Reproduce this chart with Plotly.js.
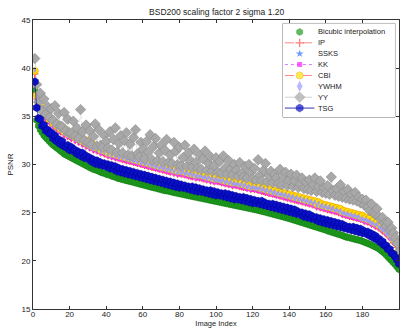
<!DOCTYPE html>
<html><head><meta charset="utf-8">
<script src="https://cdn.plot.ly/plotly-3.0.1.min.js"></script>
<style>html,body{margin:0;padding:0;background:#fff}#chart{width:405px;height:328px}</style>
</head><body><div id="chart"></div>
<script>
const seriesNames = ['Bicubic interpolation','IP','SSKS','KK','CBI','YWHM','YY','TSG'];
const xTicks = [0,20,40,60,80,100,120,140,160,180,200];
const yTicks = [15,20,25,30,35,40,45];

const bicubic = [
37.7,34.6,34.0,33.6,33.3,33.0,32.8,32.6,32.4,32.2,
32.0,31.9,31.7,31.6,31.4,31.3,31.1,31.0,30.9,30.8,
30.7,30.6,30.5,30.4,30.3,30.2,30.1,30.0,29.9,29.8,
29.7,29.6,29.5,29.45,29.4,29.3,29.2,29.15,29.1,29.0,
28.95,28.9,28.8,28.75,28.7,28.6,28.55,28.5,28.45,28.4,
28.35,28.3,28.25,28.2,28.15,28.1,28.05,28.0,27.95,27.9,
27.85,27.8,27.75,27.7,27.65,27.6,27.55,27.5,27.45,27.4,
27.35,27.3,27.28,27.24,27.2,27.15,27.1,27.06,27.02,26.98,
26.94,26.9,26.86,26.82,26.78,26.74,26.7,26.66,26.62,26.58,
26.54,26.5,26.46,26.42,26.38,26.34,26.3,26.26,26.22,26.18,
26.14,26.1,26.06,26.02,25.98,25.94,25.9,25.86,25.82,25.78,
25.74,25.7,25.66,25.62,25.58,25.54,25.5,25.46,25.42,25.38,
25.34,25.3,25.26,25.21,25.16,25.11,25.06,25.01,24.96,24.91,
24.86,24.81,24.76,24.71,24.66,24.61,24.56,24.51,24.45,24.4,
24.34,24.28,24.22,24.16,24.1,24.04,23.98,23.92,23.86,23.8,
23.74,23.68,23.62,23.56,23.5,23.44,23.38,23.32,23.26,23.2,
23.12,23.06,23.0,22.94,22.88,22.82,22.76,22.7,22.64,22.56,
22.48,22.44,22.4,22.35,22.3,22.25,22.2,22.15,22.1,22.03,
21.95,21.88,21.8,21.72,21.64,21.55,21.46,21.37,21.25,21.1,
20.95,20.8,20.6,20.4,20.2,20.0,19.8,19.6,19.35,19.1];

const ip = [
39.4,36.8,36.1,35.7,35.4,35.1,34.8,34.7,34.4,34.3,
34.0,34.0,33.7,33.7,33.4,33.5,33.1,33.2,32.9,32.9,
32.7,32.8,32.5,32.6,32.3,32.4,32.1,32.2,31.9,32.0,
31.7,31.8,31.5,31.6,31.4,31.5,31.2,31.3,31.1,31.1,
30.9,31.0,30.8,30.9,30.7,30.7,30.6,30.6,30.5,30.5,
30.4,30.4,30.3,30.3,30.2,30.2,30.1,30.1,30.0,30.0,
29.9,29.9,29.8,29.8,29.7,29.7,29.6,29.6,29.5,29.5,
29.4,29.4,29.3,29.3,29.2,29.3,29.1,29.2,29.0,29.1,
29.0,29.0,28.9,28.9,28.8,28.8,28.7,28.8,28.6,28.7,
28.6,28.6,28.5,28.5,28.4,28.5,28.3,28.4,28.2,28.3,
28.2,28.2,28.1,28.1,28.0,28.0,27.9,28.0,27.8,27.9,
27.8,27.8,27.7,27.7,27.6,27.6,27.5,27.6,27.4,27.5,
27.4,27.4,27.3,27.3,27.2,27.2,27.1,27.1,27.0,27.0,
26.9,26.9,26.8,26.8,26.7,26.7,26.6,26.6,26.5,26.5,
26.4,26.4,26.3,26.3,26.2,26.2,26.1,26.1,26.0,26.0,
25.9,25.9,25.8,25.8,25.6,25.7,25.5,25.5,25.4,25.4,
25.3,25.3,25.2,25.2,25.1,25.1,25.0,25.0,24.8,24.8,
24.7,24.7,24.6,24.6,24.5,24.5,24.4,24.4,24.3,24.3,
24.1,24.1,24.0,24.0,23.8,23.8,23.6,23.6,23.4,23.3,
23.1,23.0,22.8,22.6,22.4,22.2,21.9,21.7,21.4,20.8];

const ssks = [
39.6,37.0,36.2,35.8,35.5,35.3,35.0,34.9,34.6,34.5,
34.2,34.2,33.9,33.9,33.6,33.7,33.3,33.4,33.1,33.1,
32.9,33.0,32.7,32.8,32.5,32.6,32.3,32.4,32.1,32.2,
31.9,32.0,31.7,31.8,31.6,31.7,31.4,31.5,31.3,31.3,
31.1,31.2,31.0,31.1,30.9,30.9,30.8,30.8,30.7,30.7,
30.6,30.6,30.5,30.5,30.4,30.4,30.3,30.3,30.2,30.2,
30.1,30.1,30.0,30.0,29.9,29.9,29.8,29.8,29.7,29.7,
29.6,29.6,29.5,29.5,29.4,29.5,29.3,29.4,29.2,29.3,
29.2,29.2,29.1,29.1,29.0,29.0,28.9,29.0,28.8,28.9,
28.8,28.8,28.7,28.7,28.6,28.7,28.5,28.6,28.4,28.5,
28.4,28.4,28.3,28.3,28.2,28.2,28.1,28.2,28.0,28.1,
28.0,28.0,27.9,27.9,27.8,27.8,27.7,27.8,27.6,27.7,
27.6,27.6,27.5,27.5,27.4,27.4,27.3,27.3,27.2,27.2,
27.1,27.1,27.0,27.0,26.9,26.9,26.8,26.8,26.7,26.7,
26.6,26.6,26.5,26.5,26.4,26.4,26.3,26.3,26.2,26.2,
26.1,26.1,26.0,26.0,25.8,25.9,25.7,25.7,25.6,25.6,
25.5,25.5,25.4,25.4,25.3,25.3,25.2,25.2,25.0,25.0,
24.9,24.9,24.8,24.8,24.7,24.7,24.6,24.6,24.5,24.5,
24.3,24.3,24.2,24.2,24.0,24.0,23.8,23.8,23.6,23.5,
23.3,23.2,23.0,22.8,22.6,22.4,22.1,21.9,21.6,21.0];

const kk = [
39.5,36.9,36.0,35.8,35.3,35.2,34.7,34.8,34.3,34.4,
33.9,34.1,33.6,33.8,33.3,33.6,33.0,33.3,32.8,33.0,
32.6,32.9,32.4,32.7,32.2,32.5,32.0,32.3,31.8,32.1,
31.6,31.9,31.4,31.7,31.3,31.6,31.1,31.4,31.0,31.2,
30.8,31.1,30.7,31.0,30.6,30.8,30.5,30.7,30.4,30.6,
30.3,30.5,30.2,30.4,30.1,30.3,30.0,30.2,29.9,30.1,
29.8,30.0,29.7,29.9,29.6,29.8,29.5,29.7,29.4,29.6,
29.3,29.5,29.2,29.4,29.1,29.4,29.0,29.3,28.9,29.2,
28.9,29.1,28.8,29.0,28.7,28.9,28.6,28.9,28.5,28.8,
28.5,28.7,28.4,28.6,28.3,28.6,28.2,28.5,28.1,28.4,
28.1,28.3,28.0,28.2,27.9,28.1,27.8,28.1,27.7,28.0,
27.7,27.9,27.6,27.8,27.5,27.7,27.4,27.7,27.3,27.6,
27.3,27.5,27.2,27.4,27.1,27.3,27.0,27.2,26.9,27.1,
26.8,27.0,26.7,26.9,26.6,26.8,26.5,26.7,26.4,26.6,
26.3,26.5,26.2,26.4,26.1,26.3,26.0,26.2,25.9,26.1,
25.8,26.0,25.7,25.9,25.5,25.8,25.4,25.6,25.3,25.5,
25.2,25.4,25.1,25.3,25.0,25.2,24.9,25.1,24.7,24.9,
24.6,24.8,24.5,24.7,24.4,24.6,24.3,24.5,24.2,24.4,
24.0,24.2,23.9,24.1,23.7,23.9,23.5,23.7,23.3,23.4,
23.0,23.0,22.7,22.6,22.3,22.2,21.8,21.7,21.3,20.7];

const cbi = [
39.7,37.2,36.4,36.0,35.7,35.5,35.1,35.1,34.7,34.7,
34.3,34.4,34.0,34.1,33.7,33.9,33.4,33.6,33.2,33.3,
33.0,33.2,32.8,33.0,32.6,32.8,32.4,32.6,32.2,32.4,
32.0,32.2,31.8,32.0,31.7,31.9,31.5,31.7,31.4,31.5,
31.2,31.4,31.1,31.3,31.0,31.1,30.9,31.0,30.8,30.9,
30.7,30.8,30.6,30.7,30.5,30.6,30.4,30.5,30.3,30.4,
30.2,30.3,30.1,30.2,30.0,30.1,29.9,30.0,29.8,29.9,
29.7,29.8,29.6,29.7,29.5,29.7,29.4,29.6,29.3,29.5,
29.3,29.4,29.2,29.3,29.1,29.2,29.0,29.2,28.9,29.1,
28.9,29.0,28.8,28.9,28.7,28.9,28.6,28.8,28.5,28.7,
28.5,28.6,28.4,28.5,28.3,28.4,28.2,28.4,28.1,28.3,
28.1,28.2,28.0,28.1,27.9,28.0,27.8,28.0,27.7,27.9,
27.7,27.8,27.6,27.7,27.5,27.6,27.4,27.5,27.3,27.4,
27.2,27.3,27.1,27.2,27.0,27.1,26.9,27.0,26.8,26.9,
26.7,26.8,26.6,26.7,26.5,26.6,26.4,26.5,26.3,26.4,
26.2,26.3,26.1,26.2,25.9,26.1,25.8,25.9,25.7,25.8,
25.6,25.7,25.5,25.6,25.4,25.5,25.3,25.4,25.1,25.2,
25.0,25.1,24.9,25.0,24.8,24.9,24.7,24.8,24.6,24.7,
24.4,24.5,24.3,24.4,24.1,24.2,23.9,24.0,23.7,23.7,
23.4,23.4,23.1,23.0,22.7,22.6,22.2,22.1,21.7,21.2];

const ywhm = [
39.8,37.1,36.3,35.9,35.6,35.4,34.9,35.1,34.5,34.6,
34.1,34.4,33.8,34.0,33.5,33.9,33.2,33.4,33.0,33.3,
32.8,33.0,32.6,32.9,32.4,32.7,32.2,32.5,32.0,32.3,
31.8,32.1,31.6,31.9,31.5,31.8,31.3,31.6,31.2,31.5,
31.0,31.4,30.9,31.2,30.8,31.0,30.7,30.9,30.6,30.8,
30.5,30.7,30.4,30.6,30.3,30.5,30.2,30.4,30.1,30.3,
30.0,30.2,29.9,30.1,29.8,30.0,29.7,29.9,29.6,29.8,
29.5,29.7,29.4,29.6,29.3,29.5,29.2,29.5,29.1,29.4,
29.1,29.3,29.0,29.2,28.9,29.1,28.8,29.0,28.7,28.9,
28.7,28.8,28.6,28.7,28.5,28.7,28.4,28.6,28.3,28.5,
28.3,28.4,28.2,28.4,28.1,28.3,28.0,28.2,27.9,28.1,
27.9,28.0,27.8,28.0,27.7,27.9,27.6,27.8,27.5,27.7,
27.5,27.6,27.4,27.6,27.3,27.5,27.2,27.4,27.1,27.3,
27.0,27.2,26.9,27.1,26.8,27.0,26.7,26.9,26.6,26.8,
26.5,26.7,26.4,26.6,26.3,26.5,26.2,26.4,26.1,26.3,
26.0,26.2,25.9,26.1,25.7,26.0,25.6,25.8,25.5,25.7,
25.4,25.6,25.3,25.5,25.2,25.3,25.1,25.2,24.9,25.0,
24.8,24.9,24.7,24.8,24.6,24.7,24.5,24.6,24.3,24.4,
24.2,24.3,24.1,24.1,23.9,23.9,23.7,23.8,23.5,23.4,
23.2,23.1,22.8,22.7,22.4,22.2,21.9,21.7,21.3,20.6];

const yy = [
41.0,38.3,36.5,37.4,35.6,36.8,35.2,36.0,34.9,35.8,
34.6,36.1,34.2,35.3,34.0,33.9,35.4,33.5,34.7,33.3,
33.2,34.5,33.0,33.8,32.7,35.7,33.4,32.5,34.1,32.3,
33.5,32.1,32.9,34.2,31.9,33.6,32.0,31.8,33.0,32.4,
31.7,33.4,31.5,32.6,33.8,31.3,32.2,33.0,31.2,32.5,
33.3,31.0,32.1,30.9,32.8,33.6,31.1,30.8,32.3,31.6,
30.6,32.4,31.3,33.1,30.5,31.9,32.7,30.4,31.2,32.0,
30.3,31.5,32.6,30.2,31.0,30.1,32.3,31.4,30.0,31.8,
29.9,30.7,32.0,29.8,31.2,30.4,29.7,31.6,30.2,29.6,
31.0,29.5,30.6,31.4,29.4,30.1,30.8,29.3,29.9,30.7,
29.2,30.3,29.1,30.9,29.6,29.0,30.4,29.5,28.9,30.0,
29.4,28.8,30.2,29.1,28.7,29.8,28.6,30.0,29.2,28.5,
29.6,28.4,30.5,28.9,28.3,29.4,30.1,28.2,28.8,29.3,
28.1,29.0,28.6,28.0,29.5,27.9,28.7,29.2,27.8,28.4,
29.0,27.7,28.3,28.9,27.6,28.0,28.6,27.5,28.2,27.4,
28.4,27.3,27.9,28.6,27.2,27.7,28.3,27.1,27.6,27.0,
27.8,26.9,28.7,27.3,26.8,27.5,26.7,27.9,26.6,27.2,
26.5,27.4,26.4,26.9,26.3,27.1,26.2,26.6,26.0,26.4,
25.8,26.3,25.6,25.2,25.9,25.0,24.8,25.4,24.6,24.3,
24.5,23.9,23.6,24.0,23.2,23.4,22.9,22.4,21.8,20.9];

const tsg = [
38.6,35.9,34.8,34.7,34.0,34.1,33.5,33.6,33.2,33.3,
32.7,33.0,32.4,32.6,32.1,32.4,31.9,31.8,32.0,31.5,
31.8,31.4,31.5,31.1,31.3,30.9,31.2,30.7,30.9,30.6,
30.7,30.3,30.5,30.1,30.4,30.0,30.2,29.9,30.1,29.8,
30.0,29.6,29.9,29.5,29.8,29.3,29.6,29.2,29.5,29.1,
29.4,29.0,29.3,28.9,29.2,28.8,29.1,28.7,29.0,28.6,
28.9,28.5,28.8,28.4,28.7,28.3,28.6,28.2,28.5,28.1,
28.4,28.0,28.3,27.9,28.2,27.8,28.1,27.7,28.0,27.6,
27.9,27.6,27.8,27.5,27.7,27.4,27.7,27.3,27.6,27.2,
27.5,27.2,27.4,27.1,27.3,27.0,27.3,26.9,27.2,26.8,
27.1,26.8,27.0,26.7,27.0,26.6,26.9,26.5,26.8,26.4,
26.7,26.4,26.6,26.3,26.6,26.2,26.5,26.1,26.4,26.0,
26.3,26.0,26.2,25.9,26.2,25.8,26.0,25.7,25.9,25.6,
25.9,25.5,25.8,25.4,25.7,25.3,25.6,25.2,25.5,25.1,
25.4,25.0,25.3,24.9,25.1,24.8,25.0,24.6,24.9,24.5,
24.8,24.4,24.6,24.3,24.5,24.1,24.4,24.0,24.3,23.9,
24.2,23.8,24.1,23.7,24.0,23.6,23.9,23.5,23.8,23.4,
23.6,23.3,23.5,23.2,23.5,23.1,23.4,23.0,23.3,22.9,
23.1,22.8,23.0,22.6,22.8,22.4,22.6,22.2,22.3,21.9,
22.0,21.6,21.6,21.2,21.2,20.8,20.7,20.4,20.1,19.7];

const seriesValues = [bicubic, ip, ssks, kk, cbi, ywhm, yy, tsg];
const imageIndex = bicubic.map((_, i) => i + 1);

const styles = [
  {mode:'markers', marker:{symbol:'hexagon', size:7, color:'#1e9e1e', line:{color:'#157a15', width:0.5}}, line:{}},
  {mode:'lines+markers', marker:{symbol:'cross-thin-open', size:6, color:'#ff4040', line:{color:'#ff4040', width:1.2}}, line:{color:'#ff5050', width:0.7, dash:'dash'}},
  {mode:'markers', marker:{symbol:'star', size:6, color:'#2f6cff', line:{width:0}}, line:{}},
  {mode:'lines+markers', marker:{symbol:'square', size:5, color:'#ff20ff', line:{width:0}}, line:{color:'#c040ff', width:0.7, dash:'dot'}},
  {mode:'lines+markers', marker:{symbol:'circle', size:7, color:'#ffe000', line:{color:'#f0a000', width:0.6}}, line:{color:'#ff5050', width:0.7, dash:'dash'}},
  {mode:'markers', marker:{symbol:'diamond-tall', size:4, color:'#9a9aff', line:{width:0}}, line:{}},
  {mode:'lines+markers', marker:{symbol:'diamond', size:8, color:'#a8a8a8', line:{color:'#8a8a8a', width:0.6}}, line:{color:'#a0a0a0', width:0.5, dash:'dashdot'}},
  {mode:'lines+markers', marker:{symbol:'hexagon', size:8, color:'#0a10c8', line:{color:'#000090', width:0.5}}, line:{color:'#0000a0', width:0.8}}
];
// in the dense data area the connecting lines are barely visible
const dataLineWidth = [0, 0.3, 0, 0, 0.4, 0, 0.4, 0.6];
const dataMarkerSize = [7, 5, 5, 3, 7, 4, 8, 8];

const traces = [];
seriesNames.forEach((name, k) => {
  const st = styles[k];
  const hasLine = dataLineWidth[k] > 0;
  traces.push({type:'scatter', x:imageIndex, y:seriesValues[k], name:name, mode:hasLine ? st.mode : 'markers',
    marker:Object.assign({}, st.marker, {size:dataMarkerSize[k]}),
    line:Object.assign({}, st.line, {width:dataLineWidth[k]}),
    showlegend:false, hoverinfo:'skip', cliponaxis:true});
});
// compact legend samples, one row per series (row = series order)
seriesNames.forEach((name, k) => {
  const st = styles[k];
  const sz = k === 5 ? 8 : st.marker.size;
  traces.push({type:'scatter', xaxis:'x2', yaxis:'y2', x:[2,17,32], y:[k,k,k], mode:st.mode,
    marker:Object.assign({}, st.marker, {size:[0, sz, 0]}), line:st.line, showlegend:false, hoverinfo:'skip'});
});

const annotations = seriesNames.map((name, k) => ({
  xref:'x2', yref:'y2', x:34, y:k, text:name, showarrow:false, xanchor:'left', yanchor:'middle',
  font:{size:7.5, color:'#222', family:'Liberation Sans, Arial, sans-serif'}
}));

const axisCommon = {showline:true, linecolor:'#333', linewidth:1, mirror:'ticks', ticks:'inside', ticklen:3,
  tickcolor:'#333', showgrid:false, zeroline:false, tickfont:{size:8, color:'#222'}};

const layout = {
  width:405, height:328,
  margin:{l:33, r:6, t:20, b:19},
  paper_bgcolor:'#fff', plot_bgcolor:'#fff',
  font:{family:'Liberation Sans, Arial, sans-serif', size:8, color:'#222'},
  title:{text:'BSD200 scaling factor 2 sigma 1.20', font:{size:8.5, color:'#222'}, x:0.535, xanchor:'center', y:0.964, yanchor:'middle'},
  xaxis:Object.assign({}, axisCommon, {range:[0,200], tickvals:xTicks, ticktext:xTicks.map(String),
    ticklabelstandoff:-3, title:{text:'Image Index', standoff:0, font:{size:7.5}}, automargin:false}),
  yaxis:Object.assign({}, axisCommon, {range:[15,45], tickvals:yTicks, ticktext:yTicks.map(String),
    title:{text:'PSNR', standoff:6, font:{size:8}}, automargin:false}),
  xaxis2:{domain:[0.683, 0.989], range:[0,114], anchor:'y2', visible:false, fixedrange:true},
  yaxis2:{domain:[0.664, 0.988], range:[7.83,-0.78], anchor:'x2', visible:false, fixedrange:true},
  shapes:[{type:'rect', xref:'paper', yref:'paper', x0:0.683, x1:0.989, y0:0.664, y1:0.988,
    fillcolor:'#fff', line:{color:'#555', width:0.8}, layer:'below'}],
  annotations:annotations,
  showlegend:false
};

Plotly.newPlot('chart', traces, layout, {staticPlot:true, displayModeBar:false});
</script></body></html>
